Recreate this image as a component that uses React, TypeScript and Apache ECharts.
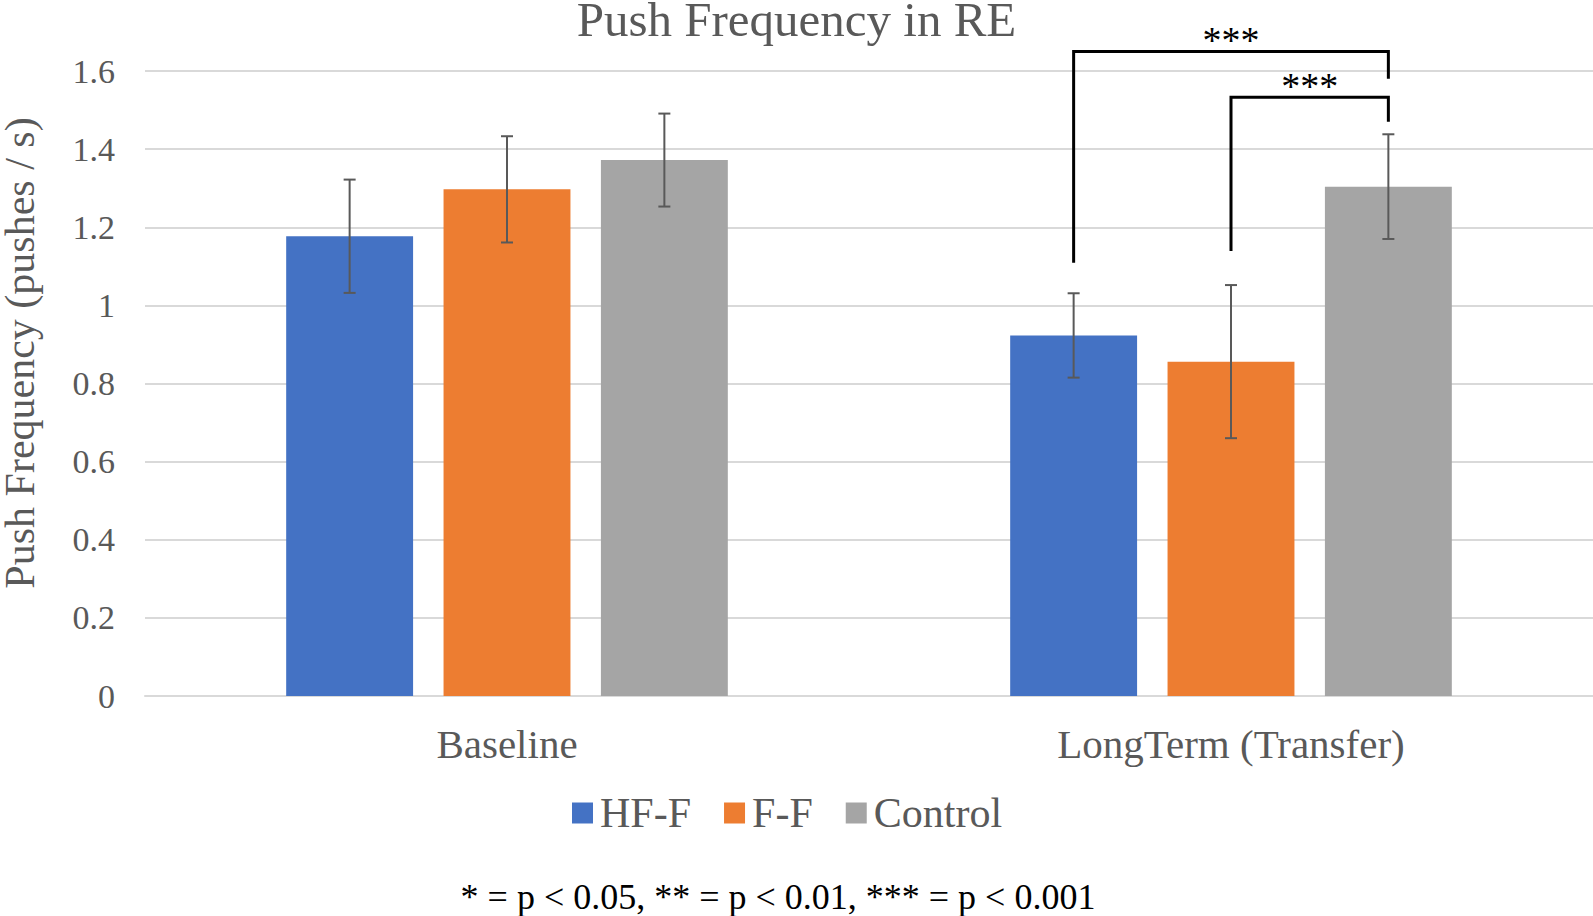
import React, { useEffect, useRef } from "react";
import * as echarts from "echarts";

const categories = ["Baseline", "LongTerm (Transfer)"];
const seriesNames = ["HF-F", "F-F", "Control"];
const hfF = [1.177, 0.923];
const fF = [1.297, 0.856];
const control = [1.372, 1.304];
const hfFErr = [0.145, 0.108];
const fFErr = [0.136, 0.196];
const controlErr = [0.119, 0.134];
const yTicks = [0, 0.2, 0.4, 0.6, 0.8, 1, 1.2, 1.4, 1.6];
// significance brackets: [categoryIndex, leftBar, rightBar, topValue, leftEndValue, rightEndValue]
const brackets = [
  [1, 0, 2, 1.65, 1.109, 1.58],
  [1, 1, 2, 1.533, 1.139, 1.47],
];
const bracketLabels = ["***", "***"];
const footnote = "* = p < 0.05, ** = p < 0.01, *** = p < 0.001";
const titleText = "Push Frequency in RE";
const yAxisName = "Push Frequency (pushes / s)";

const colors = ["#4472C4", "#ED7D31", "#A5A5A5"];
const FONT = "'Liberation Serif', 'Times New Roman', serif";
const CAT_GAP = 0.39;
const BAR_GAP = 0.24;
const NB = 3;

function barOffset(band: number, idx: number) {
  const bw = (band * (1 - CAT_GAP)) / (NB + (NB - 1) * BAR_GAP);
  return (idx - (NB - 1) / 2) * bw * (1 + BAR_GAP);
}

export default function App() {
  const ref = useRef<HTMLDivElement>(null);
  useEffect(() => {
    if (!ref.current) return;
    const chart = echarts.init(ref.current, undefined, { renderer: "svg" });
    const values = [hfF, fF, control];
    const errs = [hfFErr, fFErr, controlErr];
    const errData: number[][] = [];
    values.forEach((arr, si) =>
      arr.forEach((v, ci) => errData.push([ci, si, v, errs[si][ci]]))
    );
    const option: any = {
      animation: false,
      title: {
        text: titleText,
        left: "center",
        top: 1,
        padding: 0,
        textStyle: {
          fontFamily: FONT,
          fontSize: 49,
          lineHeight: 36,
          fontWeight: "normal",
          color: "#595959",
        },
      },
      grid: { left: 145, right: 0, top: 71, bottom: 220 },
      legend: {
        data: seriesNames,
        top: 792,
        left: 572,
        padding: 0,
        icon: "rect",
        itemWidth: 21,
        itemHeight: 21,
        itemGap: 33,
        textStyle: {
          fontFamily: FONT,
          fontSize: 42,
          lineHeight: 40,
          color: "#595959",
          padding: [0, 0, 0, 2],
        },
      },
      xAxis: {
        type: "category",
        data: categories,
        axisLine: { lineStyle: { color: "#D9D9D9", width: 2 } },
        axisTick: { show: false },
        axisLabel: { fontFamily: FONT, fontSize: 41, color: "#595959", margin: 27 },
      },
      yAxis: {
        type: "value",
        min: 0,
        max: 1.6,
        interval: 0.2,
        axisLine: { show: false },
        axisTick: { show: false },
        splitLine: { lineStyle: { color: "#D9D9D9", width: 2 } },
        axisLabel: {
          fontFamily: FONT,
          fontSize: 34,
          color: "#595959",
          margin: 30,
          formatter: (v: number) => {
            const t = yTicks.find((x) => Math.abs(x - v) < 1e-9);
            return t === undefined ? "" : String(t);
          },
        },
      },
      graphic: [
        {
          type: "text",
          x: 20,
          y: 353,
          rotation: Math.PI / 2,
          style: {
            text: yAxisName,
            fontFamily: FONT,
            fontSize: 42,
            lineHeight: 30,
            fill: "#595959",
            textAlign: "center",
            textVerticalAlign: "middle",
          },
        },
        {
          type: "text",
          x: 778,
          y: 897,
          style: {
            text: footnote,
            fontFamily: FONT,
            fontSize: 36,
            lineHeight: 30,
            fill: "#000000",
            textAlign: "center",
            textVerticalAlign: "middle",
          },
        },
      ],
      series: [
        ...values.map((arr, si) => ({
          type: "bar",
          name: seriesNames[si],
          data: arr,
          barGap: BAR_GAP * 100 + "%",
          barCategoryGap: CAT_GAP * 100 + "%",
          itemStyle: { color: colors[si] },
        })),
        {
          type: "custom",
          name: "errors",
          clip: false,
          z: 5,
          data: errData,
          encode: { x: 0, y: 2 },
          renderItem: (params: any, api: any) => {
            const ci = api.value(0);
            const si = api.value(1);
            const v = api.value(2);
            const e = api.value(3);
            const band = api.size([1, 0])[0];
            const top = api.coord([ci, v + e]);
            const bot = api.coord([ci, v - e]);
            const x = top[0] + barOffset(band, si);
            const cap = 6;
            const style = { stroke: "#595959", lineWidth: 2 };
            return {
              type: "group",
              children: [
                { type: "line", shape: { x1: x, y1: top[1], x2: x, y2: bot[1] }, style },
                { type: "line", shape: { x1: x - cap, y1: top[1], x2: x + cap, y2: top[1] }, style },
                { type: "line", shape: { x1: x - cap, y1: bot[1], x2: x + cap, y2: bot[1] }, style },
              ],
            };
          },
        },
        {
          type: "custom",
          name: "brackets",
          clip: false,
          z: 6,
          data: brackets,
          encode: { x: 0, y: 3 },
          renderItem: (params: any, api: any) => {
            const ci = api.value(0);
            const l = api.value(1);
            const r = api.value(2);
            const band = api.size([1, 0])[0];
            const topP = api.coord([ci, api.value(3)]);
            const lEnd = api.coord([ci, api.value(4)]);
            const rEnd = api.coord([ci, api.value(5)]);
            const xl = topP[0] + barOffset(band, l);
            const xr = topP[0] + barOffset(band, r);
            return {
              type: "group",
              children: [
                {
                  type: "polyline",
                  shape: {
                    points: [
                      [xl, lEnd[1]],
                      [xl, topP[1]],
                      [xr, topP[1]],
                      [xr, rEnd[1]],
                    ],
                  },
                  style: { stroke: "#000000", lineWidth: 3, fill: null },
                },
                {
                  type: "text",
                  x: (xl + xr) / 2,
                  y: topP[1] + 8,
                  style: {
                    text: bracketLabels[params.dataIndex],
                    fontFamily: FONT,
                    fontSize: 38,
                    fill: "#000000",
                    textAlign: "center",
                    textVerticalAlign: "bottom",
                  },
                },
              ],
            };
          },
        },
      ],
    };
    chart.setOption(option);
    return () => chart.dispose();
  }, []);
  return (
    <div
      ref={ref}
      style={{ position: "fixed", left: 0, top: 0, width: 1593, height: 916, background: "#fff" }}
    />
  );
}
